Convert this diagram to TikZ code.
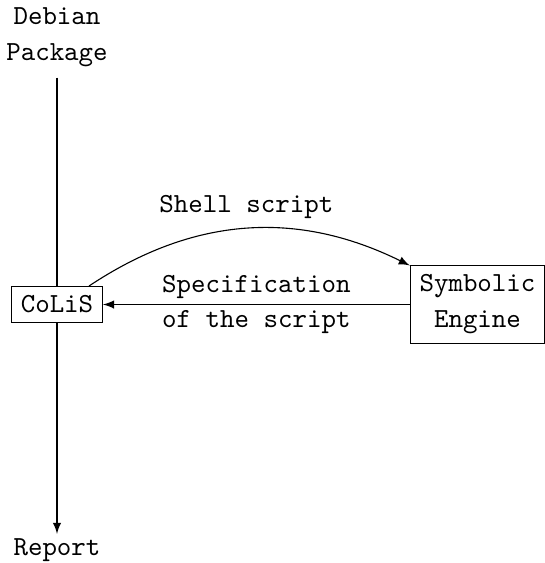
\documentclass[tikz,border=0pt]{standalone}
\usetikzlibrary{arrows}
\begin{document}
\begin{tikzpicture}[x=0.3623pt,y=-0.3623pt,
  font={\fontsize{10}{13}\ttfamily\selectfont},>=latex,
  box/.style={draw}]
\useasboundingbox (0,0) rectangle (545,563);
% the two tools
\node[box] (colis) at (57,304.5) {CoLiS};
\node[box,align=center] (engine) at (477.5,304.5) {Symbolic\\Engine};
% input and output
\node[align=center] (deb) at (57,37) {Debian\\Package};
\node[inner sep=1.5pt] (report) at (57,550) {Report};
% flow through CoLiS
\draw[shorten <=0.5pt] (deb) -- (colis);
\draw[->] (colis) -- (report);
% exchange with the symbolic engine
\draw[->] (colis) to[bend left] node[above] {Shell script} (engine);
\draw[->] (engine) -- node[align=center] {Specification\\of the script} (colis);
\end{tikzpicture}
\end{document}
